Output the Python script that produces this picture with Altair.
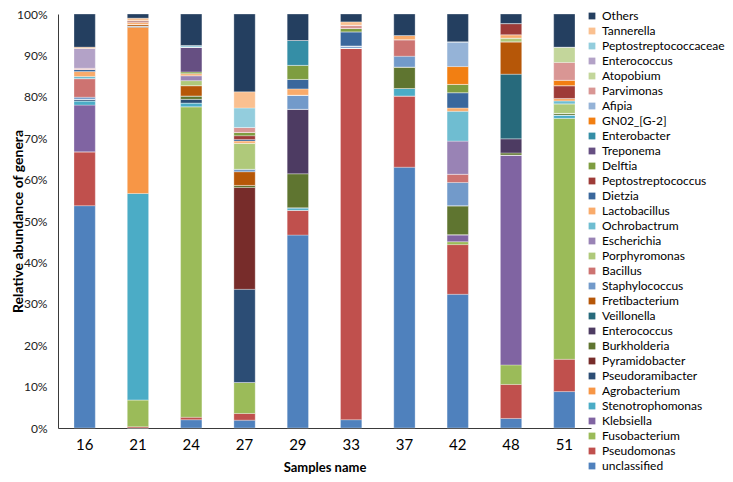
import altair as alt
import pandas as pd

samples = ["16", "21", "24", "27", "29", "33", "37", "42", "48", "51"]

# values per genus, in sample order above (percent)
unclassified = [53.7, 0.0, 2.0, 1.9, 46.6, 2.0, 63.0, 32.3, 2.3, 8.8]
pseudomonas = [13.0, 0.3, 0.6, 1.6, 6.0, 89.6, 17.2, 12.0, 8.2, 7.8]
fusobacterium = [0, 6.5, 75.0, 7.5, 0, 0, 0, 0.7, 4.7, 58.2]
klebsiella = [11.3, 0, 0, 0, 0, 0, 0, 1.7, 50.6, 0]
stenotrophomonas = [1.0, 49.9, 0.9, 0, 0.6, 0, 1.8, 0, 0, 0.8]
agrobacterium = [0, 40.2, 0, 0, 0, 0, 0, 0, 0, 0]
pseudoramibacter = [0.4, 0.3, 0.9, 22.5, 0, 0, 0, 0, 0, 0]
pyramidobacter = [0, 0, 0, 24.6, 0, 0, 0, 0, 0, 0]
burkholderia = [0, 0, 0.8, 0.5, 8.2, 0, 5.2, 7.0, 0.5, 0.4]
enterococcus = [0, 0, 0, 0, 15.6, 0, 0, 0, 3.4, 0]
veillonella = [0, 0, 0, 0, 0, 0, 0, 0, 15.6, 0]
fretibacterium = [0, 0.4, 2.5, 3.3, 0, 0, 0, 0, 7.8, 0]
staphylococcus = [0.5, 0, 0, 0.6, 3.4, 0.5, 2.6, 5.6, 0, 0]
bacillus = [4.5, 0, 0, 0, 0, 0, 4.0, 2.0, 0, 0]
porphyromonas = [0, 0, 1.2, 6.3, 0, 0, 0, 0, 0.9, 2.3]
escherichia = [0, 0, 1.2, 0, 0, 0, 0, 8.0, 0, 0]
ochrobactrum = [0.5, 0, 0, 0, 0, 0, 0, 7.2, 0, 0.7]
lactobacillus = [1.2, 0.5, 0.5, 0.5, 1.5, 0, 1.0, 0.8, 0.8, 0.6]
dietzia = [0.5, 0, 0, 0.4, 2.3, 3.4, 0, 3.7, 0, 0]
peptostreptococcus = [0, 0.4, 0, 0.9, 0, 0, 0, 0, 2.7, 3.1]
delftia = [0, 0, 0.4, 0.8, 3.4, 0.8, 0, 2.0, 0, 0]
treponema = [0, 0, 6.0, 0, 0, 0, 0, 0, 0, 0]
enterobacter = [0, 0, 0, 0, 6.0, 0, 0, 0, 0, 0]
gn02 = [0, 0, 0, 0, 0, 0, 0, 4.3, 0, 1.3]
afipia = [0, 0, 0, 0, 0, 0, 0, 6.0, 0, 0]
parvimonas = [0.3, 0, 0, 1.2, 0, 0.8, 0, 0, 0, 4.3]
atopobium = [0, 0, 0, 0, 0, 0, 0, 0, 0, 3.7]
enterococcus_2 = [4.8, 0, 0, 0, 0, 0, 0, 0, 0, 0]
peptostreptococcaceae = [0, 0, 0.4, 4.7, 0, 0, 0, 0, 0, 0]
tannerella = [0.3, 0.6, 0, 3.9, 0, 0.8, 0, 0, 0, 0]
others = [8.0, 1.0, 7.6, 18.8, 6.4, 1.9, 5.2, 6.7, 2.3, 8.0]

# stacking order, bottom to top: (legend label, values, colour)
series = [
    ("unclassified", unclassified, "#4F81BD"),
    ("Pseudomonas", pseudomonas, "#C0504D"),
    ("Fusobacterium", fusobacterium, "#9BBB59"),
    ("Klebsiella", klebsiella, "#8064A2"),
    ("Stenotrophomonas", stenotrophomonas, "#4BACC6"),
    ("Agrobacterium", agrobacterium, "#F79646"),
    ("Pseudoramibacter", pseudoramibacter, "#2C4D75"),
    ("Pyramidobacter", pyramidobacter, "#772C2A"),
    ("Burkholderia", burkholderia, "#5F7530"),
    ("Enterococcus", enterococcus, "#4D3B62"),
    ("Veillonella", veillonella, "#276A7C"),
    ("Fretibacterium", fretibacterium, "#B65708"),
    ("Staphylococcus", staphylococcus, "#729ACA"),
    ("Bacillus", bacillus, "#CD7371"),
    ("Porphyromonas", porphyromonas, "#AFC97A"),
    ("Escherichia", escherichia, "#9983B5"),
    ("Ochrobactrum", ochrobactrum, "#6FBDD1"),
    ("Lactobacillus", lactobacillus, "#F9AB6B"),
    ("Dietzia", dietzia, "#3A679C"),
    ("Peptostreptococcus", peptostreptococcus, "#9E3B38"),
    ("Delftia", delftia, "#7E9D40"),
    ("Treponema", treponema, "#664F82"),
    ("Enterobacter", enterobacter, "#358EA6"),
    ("GN02_[G-2]", gn02, "#F27F12"),
    ("Afipia", afipia, "#95B3D7"),
    ("Parvimonas", parvimonas, "#D99694"),
    ("Atopobium", atopobium, "#C3D69B"),
    ("Enterococcus ", enterococcus_2, "#B3A2C7"),
    ("Peptostreptococcaceae", peptostreptococcaceae, "#93CDDD"),
    ("Tannerella", tannerella, "#FAC090"),
    ("Others", others, "#243F60"),
]

rows = []
for idx, (name, vals, _c) in enumerate(series):
    for s, v in zip(samples, vals):
        rows.append({"sample": s, "genus": name, "value": v, "stack": idx})
df = pd.DataFrame(rows)

legend_domain = [s[0] for s in series][::-1]
legend_range = [s[2] for s in series][::-1]

FONT = "Lato"

chart = alt.Chart(df).mark_bar(stroke="white", strokeWidth=0.5, strokeOpacity=0.6).encode(
    x=alt.X(
        "sample:N",
        sort=samples,
        scale=alt.Scale(paddingInner=0.6, paddingOuter=0.3),
        axis=alt.Axis(
            title="Samples name",
            titleFont=FONT,
            titleFontSize=13,
            titleFontWeight="bold",
            titleColor="#000000",
            titleBaseline="top",
            titleY=33,
            labelFont=FONT,
            labelFontSize=15,
            labelColor="#000000",
            labelAngle=0,
            labelPadding=9,
            tickSize=0,
            domainColor="#3a3a3a",
            domainWidth=1,
            grid=False,
        ),
    ),
    y=alt.Y(
        "value:Q",
        stack="normalize",
        scale=alt.Scale(domain=[0, 1], nice=False),
        axis=alt.Axis(
            title="Relative abundance of genera",
            titleFont=FONT,
            titleFontSize=14,
            titleFontWeight="bold",
            titleColor="#000000",
            titleBaseline="bottom",
            titleX=-33,
            format="%",
            values=[0, 0.1, 0.2, 0.3, 0.4, 0.5, 0.6, 0.7, 0.8, 0.9, 1.0],
            labelFont=FONT,
            labelFontSize=12,
            labelColor="#222222",
            labelPadding=11,
            tickSize=0,
            domainColor="#3a3a3a",
            domainWidth=1,
            grid=False,
        ),
    ),
    color=alt.Color(
        "genus:N",
        scale=alt.Scale(domain=legend_domain, range=legend_range),
        legend=alt.Legend(
            title=None,
            orient="none",
            legendX=528,
            legendY=-4,
            padding=0,
            symbolType="square",
            symbolSize=46,
            symbolStrokeWidth=0,
            symbolLimit=0,
            labelFont=FONT,
            labelFontSize=12,
            labelColor="#000000",
            labelOffset=4,
            rowPadding=3,
            labelLimit=200,
        ),
    ),
    order=alt.Order("stack:Q", sort="ascending"),
).properties(
    width=533,
    height=414,
    autosize=alt.AutoSizeParams(type="none"),
    padding={"left": 50, "top": 6, "right": 134, "bottom": 46},
).configure_view(stroke=None)

chart.save("out.html", embed_options={"renderer": "svg", "actions": False})
